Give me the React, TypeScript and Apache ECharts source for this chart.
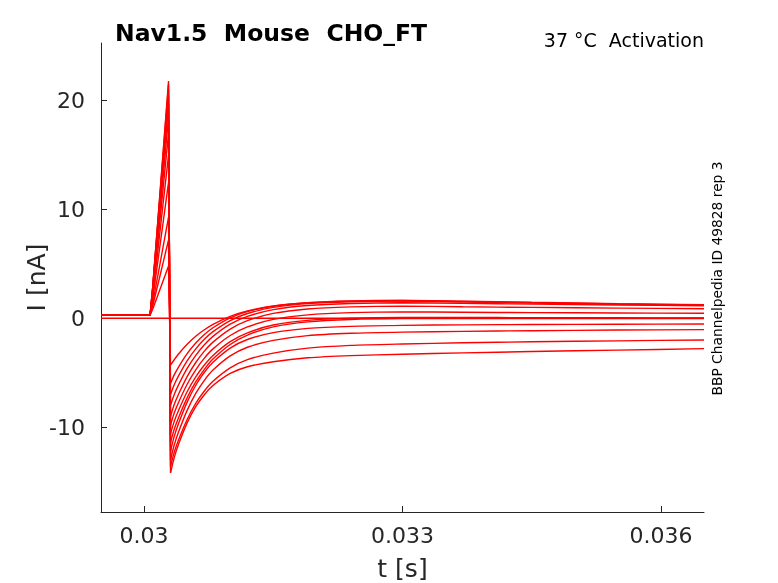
import React, { useEffect, useRef } from "react";
import * as echarts from "echarts";

// shared sample times (s)
const timeGrid = [
  0.0295, 0.03007, 0.0301, 0.03018, 0.030284, 0.030307, 0.03035, 0.0304, 0.0305, 0.0306, 0.0307,
  0.0308, 0.031, 0.0312, 0.0315, 0.0319, 0.0324, 0.033, 0.0337, 0.0345, 0.0355, 0.0365,
];
// index of the trough sample (start of the recovery phase)
const troughIndex = 5;

// current traces (nA), one per voltage step
const sweep1 = [0.3, 0.3, 0.84, 2.55, 4.8, -4.3, -3.81, -3.28, -2.39, -1.65, -1.05, -0.55, 0.18, 0.68, 1.13, 1.43, 1.59, 1.65, 1.58, 1.47, 1.35, 1.25];
const sweep2 = [0.3, 0.3, 1.13, 3.75, 7.2, -6.0, -5.2, -4.48, -3.25, -2.27, -1.49, -0.87, 0.04, 0.62, 1.12, 1.43, 1.58, 1.63, 1.55, 1.44, 1.32, 1.22];
const sweep3 = [0.3, 0.3, 1.38, 4.8, 9.3, -7.0, -6.1, -5.29, -3.91, -2.81, -1.93, -1.23, -0.21, 0.44, 1.01, 1.35, 1.52, 1.58, 1.5, 1.4, 1.29, 1.2];
const sweep4 = [0.3, 0.3, 1.76, 6.4, 12.5, -8.0, -7.01, -6.12, -4.61, -3.4, -2.43, -1.66, -0.54, 0.17, 0.8, 1.18, 1.36, 1.43, 1.37, 1.3, 1.22, 1.15];
const sweep5 = [0.3, 0.3, 2.06, 7.65, 15.0, -9.0, -7.93, -6.98, -5.36, -4.06, -3.02, -2.19, -0.99, -0.22, 0.45, 0.86, 1.05, 1.12, 1.06, 1.0, 0.94, 0.88];
const sweep6 = [0.3, 0.3, 2.3, 8.65, 17.0, -9.8, -8.71, -7.73, -6.06, -4.73, -3.66, -2.81, -1.58, -0.79, -0.1, 0.32, 0.52, 0.59, 0.56, 0.52, 0.49, 0.46];
const sweep7 = [0.3, 0.3, 2.48, 9.4, 18.5, -10.6, -9.47, -8.47, -6.75, -5.38, -4.29, -3.41, -2.14, -1.33, -0.62, -0.19, 0.02, 0.09, 0.08, 0.06, 0.05, 0.03];
const sweep8 = [0.3, 0.3, 2.62, 9.95, 19.6, -11.4, -10.2, -9.13, -7.31, -5.85, -4.69, -3.75, -2.41, -1.54, -0.79, -0.33, -0.11, -0.03, -0.02, -0.02, -0.02, -0.02];
const sweep9 = [0.3, 0.3, 2.71, 10.35, 20.4, -12.2, -10.85, -9.67, -7.7, -6.15, -4.96, -4.04, -2.74, -1.95, -1.32, -0.93, -0.74, -0.65, -0.6, -0.57, -0.54, -0.52];
const sweep10 = [0.3, 0.3, 2.78, 10.65, 21.0, -13.0, -11.64, -10.45, -8.46, -6.9, -5.7, -4.76, -3.46, -2.66, -2.03, -1.59, -1.38, -1.27, -1.2, -1.14, -1.08, -1.04];
const sweep11 = [0.3, 0.3, 2.84, 10.9, 21.5, -13.6, -12.31, -11.18, -9.3, -7.82, -6.68, -5.79, -4.56, -3.8, -3.2, -2.74, -2.49, -2.36, -2.25, -2.16, -2.07, -1.99];
const sweep12 = [0.3, 0.3, 2.88, 11.05, 21.8, -14.2, -12.8, -11.57, -9.61, -8.12, -7.02, -6.18, -5.07, -4.45, -3.99, -3.63, -3.43, -3.3, -3.18, -3.05, -2.92, -2.79];

// flat sweep at zero
const zeroTimes = [0.0295, 0.0365];
const zeroValues = [0, 0];

const xTicks = [0.03, 0.033, 0.036];
const yTicks = [-10, 0, 10, 20];

const sweeps = [sweep1, sweep2, sweep3, sweep4, sweep5, sweep6, sweep7, sweep8, sweep9, sweep10, sweep11, sweep12];

export default function App() {
  const ref = useRef<HTMLDivElement>(null);
  useEffect(() => {
    const chart = echarts.init(ref.current!, null, { renderer: "svg" });
    const font = "DejaVu Sans";
    const axisColor = "#262626";
    const lineStyle = { color: "#ff0000", width: 1.4 };
    const base = { type: "line", showSymbol: false, symbol: "none", silent: true, lineStyle };
    const series: any[] = [];
    sweeps.forEach((s) => {
      const pts = timeGrid.map((t, j) => [t, s[j]]);
      // pre-step, spike and drop (sharp)
      series.push({ ...base, data: pts.slice(0, troughIndex + 1) });
      // recovery phase (smooth)
      series.push({ ...base, data: pts.slice(troughIndex), smooth: 0.25 });
    });
    series.push({ ...base, data: zeroTimes.map((t, j) => [t, zeroValues[j]]) });
    chart.setOption({
      animation: false,
      grid: { left: 101, right: 74, top: 43, bottom: 71, containLabel: false, outerBoundsMode: "none" },
      xAxis: {
        type: "value",
        min: 0.0295,
        max: 0.0365,
        name: "t [s]",
        nameLocation: "middle",
        nameGap: 44,
        nameMoveOverlap: false,
        nameTextStyle: { fontSize: 25, color: axisColor, fontFamily: font },
        axisLine: { show: true, onZero: false, lineStyle: { color: axisColor, width: 1 } },
        axisTick: { show: true, inside: true, length: 6, customValues: xTicks, lineStyle: { color: axisColor } },
        axisLabel: {
          customValues: xTicks,
          formatter: (v: number) => String(Number(v.toFixed(4))),
          fontSize: 22,
          color: axisColor,
          margin: 12,
          fontFamily: font,
        },
        splitLine: { show: false },
      },
      yAxis: {
        type: "value",
        min: -17.8,
        max: 25.3,
        name: "I [nA]",
        nameLocation: "middle",
        nameGap: 52,
        nameMoveOverlap: false,
        nameTextStyle: { fontSize: 25, color: axisColor, fontFamily: font },
        axisLine: { show: true, onZero: false, lineStyle: { color: axisColor, width: 1 } },
        axisTick: { show: true, inside: true, length: 6, customValues: yTicks, lineStyle: { color: axisColor } },
        axisLabel: {
          customValues: yTicks,
          fontSize: 22,
          color: axisColor,
          margin: 16,
          fontFamily: font,
        },
        splitLine: { show: false },
      },
      graphic: [
        {
          type: "text",
          x: 115,
          y: 33,
          silent: true,
          style: {
            text: "Nav1.5  Mouse  CHO_FT",
            fontSize: 23.5,
            fontWeight: "bold",
            fontFamily: font,
            fill: "#000",
            align: "left",
            verticalAlign: "middle",
          },
        },
        {
          type: "text",
          x: 704,
          y: 40,
          silent: true,
          style: {
            text: "37 °C  Activation",
            fontSize: 19,
            fontFamily: font,
            fill: "#000",
            align: "right",
            verticalAlign: "middle",
          },
        },
        {
          type: "text",
          x: 717,
          y: 278.5,
          rotation: Math.PI / 2,
          silent: true,
          style: {
            text: "BBP Channelpedia ID 49828 rep 3",
            fontSize: 13.8,
            fontFamily: font,
            fill: "#000",
            align: "center",
            verticalAlign: "middle",
          },
        },
      ],
      series,
    });
    return () => chart.dispose();
  }, []);
  return <div ref={ref} style={{ position: "fixed", left: 0, top: 0, width: 778, height: 583 }} />;
}
